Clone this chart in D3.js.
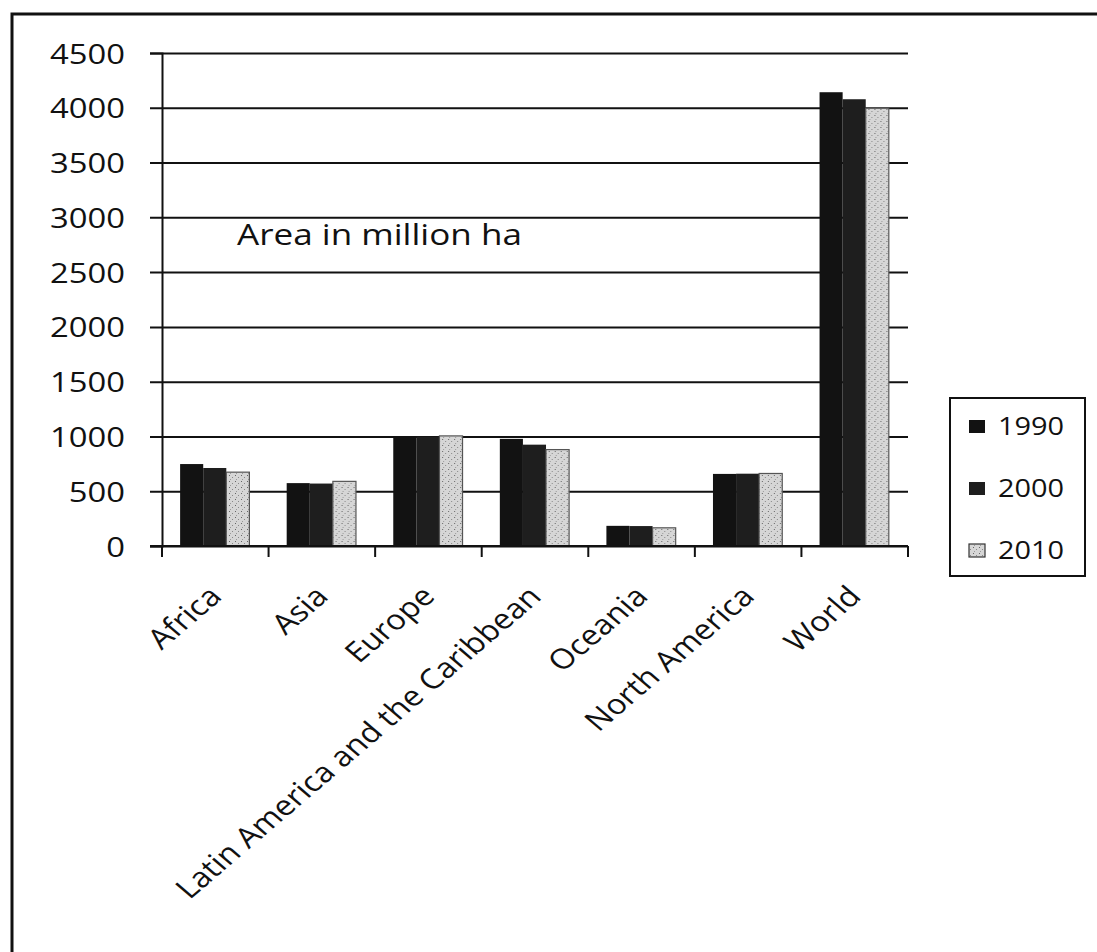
<!DOCTYPE html>
<html>
<head>
<meta charset="utf-8">
<script src="https://cdn.jsdelivr.net/npm/d3@7/dist/d3.min.js"></script>
<style>
  html, body { margin: 0; padding: 0; background: #fff; }
  svg { display: block; }
  text { font-family: "Open Sans", "Noto Sans", sans-serif; fill: #111; }
</style>
</head>
<body>
<svg id="chart" width="1097" height="952"></svg>
<script>
// Forest area by region, million ha
const categories = ["Africa", "Asia", "Europe", "Latin America and the Caribbean", "Oceania", "North America", "World"];
const years = ["1990", "2000", "2010"];
const area1990 = [748, 574, 990, 978, 184, 658, 4142];
const area2000 = [712, 570, 998, 925, 182, 660, 4078];
const area2010 = [674, 590, 1005, 880, 166, 662, 3996];
const yTicks = [0, 500, 1000, 1500, 2000, 2500, 3000, 3500, 4000, 4500];
const note = "Area in million ha";

const series = [area1990, area2000, area2010];
const stretch = 1.17;

const svg = d3.select("#chart");

// pattern for the light 2010 bars
const defs = svg.append("defs");
const pat = defs.append("pattern")
  .attr("id", "speckle").attr("patternUnits", "userSpaceOnUse")
  .attr("width", 6).attr("height", 6);
pat.append("rect").attr("width", 6).attr("height", 6).attr("fill", "#d6d6d6");
pat.append("rect").attr("x", 1).attr("y", 1).attr("width", 1).attr("height", 1).attr("fill", "#666");
pat.append("rect").attr("x", 4).attr("y", 3).attr("width", 1).attr("height", 1).attr("fill", "#888");
pat.append("rect").attr("x", 2).attr("y", 5).attr("width", 1).attr("height", 1).attr("fill", "#999");

const fills = ["#121212", "#1e1e1e", "url(#speckle)"];
const strokes = ["none", "none", "#555"];

// outer frame (top and left edge)
svg.append("path")
  .attr("d", "M12,952 V14 H1097")
  .attr("fill", "none").attr("stroke", "#111").attr("stroke-width", 3);

const x = d3.scaleBand().domain(categories).range([162, 908]).padding(0);
const bw = x.bandwidth();
const xs = d3.scaleBand().domain(years).range([bw * 0.17, bw * 0.82]).padding(0);
const y = d3.scaleLinear().domain([0, 4500]).range([546, 53]);

// y axis with gridlines
const yAxis = svg.append("g")
  .attr("transform", "translate(162,0)")
  .call(d3.axisLeft(y).tickValues(yTicks).tickFormat(d3.format("d")).tickSize(12).tickPadding(25));
yAxis.select(".domain").attr("stroke", "#111").attr("stroke-width", 2);
yAxis.selectAll(".tick line")
  .attr("x1", -12).attr("x2", 908 - 162)
  .attr("stroke", "#111").attr("stroke-width", 2);
yAxis.selectAll(".tick text")
  .attr("font-size", 28)
  .attr("font-family", "'Open Sans', sans-serif")
  .attr("fill", "#111")
  .attr("dy", "0.36em")
  .each(function () {
    const t = d3.select(this);
    const xx = +t.attr("x");
    t.attr("x", null).attr("transform", `translate(${xx},0) scale(${stretch},1)`);
  });

// bars
const groups = svg.append("g").selectAll("g")
  .data(categories).join("g")
  .attr("transform", c => `translate(${x(c)},0)`);

years.forEach((yr, si) => {
  groups.append("rect")
    .attr("x", xs(yr))
    .attr("width", xs.bandwidth())
    .attr("y", (c, i) => y(series[si][i]))
    .attr("height", (c, i) => y(0) - y(series[si][i]))
    .attr("fill", fills[si])
    .attr("stroke", strokes[si])
    .attr("stroke-width", 1.2);
});

// x axis line and category boundary ticks
svg.append("line")
  .attr("x1", 150).attr("x2", 908).attr("y1", y(0)).attr("y2", y(0))
  .attr("stroke", "#111").attr("stroke-width", 2);
const bounds = categories.map(c => x(c)).concat([x.range()[1]]);
svg.append("g").selectAll("line").data(bounds).join("line")
  .attr("x1", d => d).attr("x2", d => d)
  .attr("y1", y(0)).attr("y2", y(0) + 11)
  .attr("stroke", "#111").attr("stroke-width", 2);

// rotated category labels
svg.append("g").selectAll("text").data(categories).join("text")
  .attr("transform", c => `translate(${x(c) + bw / 2 + 8},598) scale(${stretch},1) rotate(-45)`)
  .attr("text-anchor", "end")
  .attr("font-size", 28)
  .text(c => c);

// in-plot note
svg.append("text")
  .attr("transform", `translate(237,245) scale(${stretch},1)`)
  .attr("font-size", 30)
  .text(note);

// legend
const lg = svg.append("g");
lg.append("rect")
  .attr("x", 950).attr("y", 398).attr("width", 135).attr("height", 178)
  .attr("fill", "#fff").attr("stroke", "#111").attr("stroke-width", 2);
const rowY = [426, 488, 550];
years.forEach((yr, i) => {
  lg.append("rect")
    .attr("x", 969).attr("y", rowY[i] - 6).attr("width", 16).attr("height", 13)
    .attr("fill", fills[i]).attr("stroke", i === 2 ? "#333" : "none").attr("stroke-width", 1.2);
  lg.append("text")
    .attr("transform", `translate(998,${rowY[i]}) scale(${stretch * 0.95},1)`)
    .attr("dy", "0.36em")
    .attr("font-size", 26)
    .text(yr);
});
</script>
</body>
</html>
